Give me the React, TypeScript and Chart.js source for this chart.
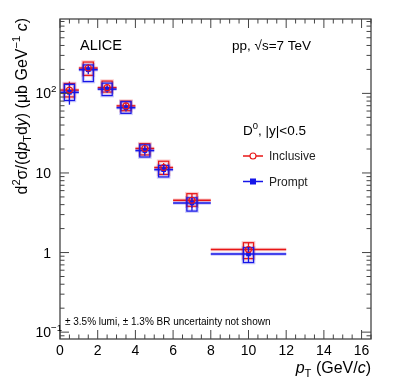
import React, { useEffect, useRef } from "react";
import { Chart, registerables } from "chart.js";

Chart.register(...registerables);

// ---- data ----
const binLow = [0, 1, 2, 3, 4, 5, 6, 8];
const binHigh = [1, 2, 3, 4, 5, 6, 8, 12];
const binCenter = [0.5, 1.5, 2.5, 3.5, 4.5, 5.5, 7, 10];
const promptVals = [103, 198, 113, 66, 19.1, 11.0, 4.2, 0.96];
const inclusiveVals = [110, 208, 118, 69.6, 20.3, 11.7, 4.54, 1.09];
const promptStat = [30, 12, 10, 10, 14, 14, 20, 22];
const inclusiveStat = [28, 12, 10, 10, 14, 14, 20, 22];
const promptSysUp = [26, 15, 19, 19, 18, 13, 16, 20];
const promptSysDown = [21, 29, 17, 15, 17, 19, 21, 22];
const inclusiveSysUp = [21, 19, 21, 15, 15, 20, 21, 22];
const inclusiveSysDown = [18, 19, 12, 13, 17, 18, 16, 23];
const sysHalfWidth = 0.27;

const xMajorTicks = [0, 2, 4, 6, 8, 10, 12, 14, 16];
const xTickLabels = ["0", "2", "4", "6", "8", "10", "12", "14", "16"];
const xMinorStep = 0.5;
const yMajorTicks = [0.1, 1, 10, 100];
const yTickBase = ["10", "1", "10", "10"];
const yTickExp = ["\u22121", "", "", "2"];

const RED = "rgb(232,22,22)";
const BLUE = "rgb(22,22,232)";
const RED_A = "rgba(232,22,22,0.22)";
const BLUE_A = "rgba(22,22,232,0.22)";
const FONT = '"Liberation Sans", Arial, Helvetica, sans-serif';

type Run = { t: string; it?: boolean; sub?: boolean; sup?: boolean };

function runFont(r: Run, size: number) {
  const s = r.sub || r.sup ? size * 0.7 : size;
  return `${r.it ? "italic " : ""}${s}px ${FONT}`;
}
function runsWidth(ctx: CanvasRenderingContext2D, runs: Run[], size: number) {
  let w = 0;
  for (const r of runs) {
    ctx.font = runFont(r, size);
    w += ctx.measureText(r.t).width;
  }
  return w;
}
function drawRuns(
  ctx: CanvasRenderingContext2D,
  runs: Run[],
  x: number,
  y: number,
  size: number,
  align: "left" | "right" | "center",
  color = "#000"
) {
  const w = runsWidth(ctx, runs, size);
  let cx = align === "left" ? x : align === "right" ? x - w : x - w / 2;
  ctx.fillStyle = color;
  ctx.textAlign = "left";
  ctx.textBaseline = "alphabetic";
  for (const r of runs) {
    ctx.font = runFont(r, size);
    const dy = r.sub ? size * 0.28 : r.sup ? -size * 0.42 : 0;
    ctx.fillText(r.t, cx, y + dy);
    cx += ctx.measureText(r.t).width;
  }
}

const rootPlugin = {
  id: "rootPlugin",
  beforeDatasetsDraw(chart: any) {
    const ctx: CanvasRenderingContext2D = chart.ctx;
    const xs = chart.scales.x;
    const ys = chart.scales.y;
    const series = [
      { v: inclusiveVals, st: inclusiveStat, su: inclusiveSysUp, sd: inclusiveSysDown, c: RED, a: RED_A },
      { v: promptVals, st: promptStat, su: promptSysUp, sd: promptSysDown, c: BLUE, a: BLUE_A },
    ];
    ctx.save();
    for (const s of series) {
      for (let i = 0; i < binCenter.length; i++) {
        const v = s.v[i];
        const px = xs.getPixelForValue(binCenter[i]);
        const py = ys.getPixelForValue(v);
        const bx0 = xs.getPixelForValue(binCenter[i] - sysHalfWidth);
        const bx1 = xs.getPixelForValue(binCenter[i] + sysHalfWidth);
        const by0 = ys.getPixelForValue(v * (1 + s.su[i] / 100));
        const by1 = ys.getPixelForValue(v * (1 - s.sd[i] / 100));
        // halo
        ctx.strokeStyle = s.a;
        ctx.lineWidth = 3.5;
        ctx.strokeRect(bx0, by0, bx1 - bx0, by1 - by0);
        ctx.beginPath();
        ctx.moveTo(xs.getPixelForValue(binLow[i]), py);
        ctx.lineTo(xs.getPixelForValue(binHigh[i]), py);
        ctx.stroke();
        // solid
        ctx.strokeStyle = s.c;
        ctx.lineWidth = 1.2;
        ctx.strokeRect(bx0, by0, bx1 - bx0, by1 - by0);
        ctx.lineWidth = 1.5;
        ctx.beginPath();
        ctx.moveTo(xs.getPixelForValue(binLow[i]), py);
        ctx.lineTo(xs.getPixelForValue(binHigh[i]), py);
        ctx.stroke();
        ctx.lineWidth = 1.3;
        ctx.beginPath();
        ctx.moveTo(px, ys.getPixelForValue(v * (1 + s.st[i] / 100)));
        ctx.lineTo(px, ys.getPixelForValue(v * (1 - s.st[i] / 100)));
        ctx.stroke();
      }
    }
    ctx.restore();
  },
  afterDraw(chart: any) {
    const ctx: CanvasRenderingContext2D = chart.ctx;
    const xs = chart.scales.x;
    const ys = chart.scales.y;
    const a = chart.chartArea;
    ctx.save();
    // frame
    ctx.strokeStyle = "#444";
    ctx.lineWidth = 1.3;
    ctx.strokeRect(a.left, a.top, a.right - a.left, a.bottom - a.top);
    // x ticks
    ctx.lineWidth = 1;
    ctx.strokeStyle = "#444";
    ctx.beginPath();
    for (let t = 0; t <= xs.max + 1e-9; t += xMinorStep) {
      const p = xs.getPixelForValue(t);
      const major = xMajorTicks.includes(t);
      const L = major ? 9 : 4.5;
      ctx.moveTo(p, a.bottom);
      ctx.lineTo(p, a.bottom - L);
      ctx.moveTo(p, a.top);
      ctx.lineTo(p, a.top + L);
    }
    // y ticks
    for (let e = -2; e <= 3; e++) {
      for (let m = 1; m <= 9; m++) {
        const v = m * Math.pow(10, e);
        if (v < ys.min || v > ys.max) continue;
        const p = ys.getPixelForValue(v);
        const L = m === 1 ? 9 : 4.5;
        ctx.moveTo(a.left, p);
        ctx.lineTo(a.left + L, p);
        ctx.moveTo(a.right, p);
        ctx.lineTo(a.right - L, p);
      }
    }
    ctx.stroke();
    // x tick labels
    xMajorTicks.forEach((t, i) => {
      drawRuns(ctx, [{ t: xTickLabels[i] }], xs.getPixelForValue(t), 355, 14, "center");
    });
    // y tick labels
    yMajorTicks.forEach((t, i) => {
      const p = ys.getPixelForValue(t) + 5;
      ctx.font = `14px ${FONT}`;
      const bw = ctx.measureText(yTickBase[i]).width;
      drawRuns(ctx, [{ t: yTickBase[i] }], 51, p, 14, "right");
      if (yTickExp[i]) drawRuns(ctx, [{ t: yTickExp[i], sup: true }], 51, p, 14, "left");
      void bw;
    });
    // axis titles
    drawRuns(ctx, [{ t: "p", it: true }, { t: "T", sub: true }, { t: " (GeV/" }, { t: "c", it: true }, { t: ")" }], a.right, 373, 16, "right");
    ctx.save();
    ctx.translate(27, 0);
    ctx.rotate(-Math.PI / 2);
    drawRuns(
      ctx,
      [
        { t: "d" }, { t: "2", sup: true }, { t: "\u03c3/(d" }, { t: "p", it: true }, { t: "T", sub: true },
        { t: "d" }, { t: "y", it: true }, { t: ") (\u03bcb GeV" }, { t: "\u22121", sup: true }, { t: " " },
        { t: "c", it: true }, { t: ")" },
      ],
      -18, 0, 16, "right"
    );
    ctx.restore();
    // texts
    drawRuns(ctx, [{ t: "ALICE" }], 80, 49.5, 14.5, "left");
    drawRuns(ctx, [{ t: "pp, \u221as=7 TeV" }], 232, 50, 13.5, "left");
    drawRuns(ctx, [{ t: "D" }, { t: "0", sup: true }, { t: ", |y|<0.5" }], 243, 135, 13.5, "left");
    drawRuns(ctx, [{ t: "\u00b1 3.5% lumi, \u00b1 1.3% BR uncertainty not shown" }], 65, 325, 10, "left");
    // legend
    const legend = [
      { label: "Inclusive", c: RED, y: 156, open: true },
      { label: "Prompt", c: BLUE, y: 181.5, open: false },
    ];
    for (const l of legend) {
      ctx.strokeStyle = l.c;
      ctx.lineWidth = 1.5;
      ctx.beginPath();
      ctx.moveTo(243, l.y);
      ctx.lineTo(263, l.y);
      ctx.stroke();
      if (l.open) {
        ctx.fillStyle = "#fff";
        ctx.beginPath();
        ctx.arc(253, l.y, 3, 0, Math.PI * 2);
        ctx.fill();
        ctx.lineWidth = 1.1;
        ctx.stroke();
      } else {
        ctx.fillStyle = l.c;
        ctx.fillRect(250, l.y - 3, 6, 6);
      }
      drawRuns(ctx, [{ t: l.label }], 269, l.y + 4.3, 12, "left", "#222");
    }
    ctx.restore();
  },
};

export default function App() {
  const ref = useRef<HTMLCanvasElement | null>(null);
  useEffect(() => {
    if (!ref.current) return;
    const chart = new Chart(ref.current, {
      type: "scatter",
      data: {
        datasets: [
          {
            label: "Inclusive",
            data: binCenter.map((x, i) => ({ x, y: inclusiveVals[i] })),
            pointStyle: "circle",
            radius: 3,
            borderColor: RED,
            backgroundColor: "rgba(0,0,0,0)",
            borderWidth: 1.1,
          },
          {
            label: "Prompt",
            data: binCenter.map((x, i) => ({ x, y: promptVals[i] })),
            pointStyle: "rect",
            radius: 3.3,
            borderColor: BLUE,
            backgroundColor: BLUE,
            borderWidth: 0,
          },
        ],
      },
      options: {
        responsive: false,
        animation: false,
        devicePixelRatio: 1,
        layout: { padding: { left: 60, right: 28, top: 19, bottom: 48 } },
        plugins: { legend: { display: false }, tooltip: { enabled: false } },
        scales: {
          x: { type: "linear", min: 0, max: 16.5, display: false },
          y: { type: "logarithmic", min: 0.082, max: 860, display: false },
        },
      },
      plugins: [rootPlugin],
    });
    return () => chart.destroy();
  }, []);
  return (
    <div style={{ position: "absolute", left: 0, top: 0, width: 399, height: 387, background: "#fff" }}>
      <canvas ref={ref} width={399} height={387} />
    </div>
  );
}
